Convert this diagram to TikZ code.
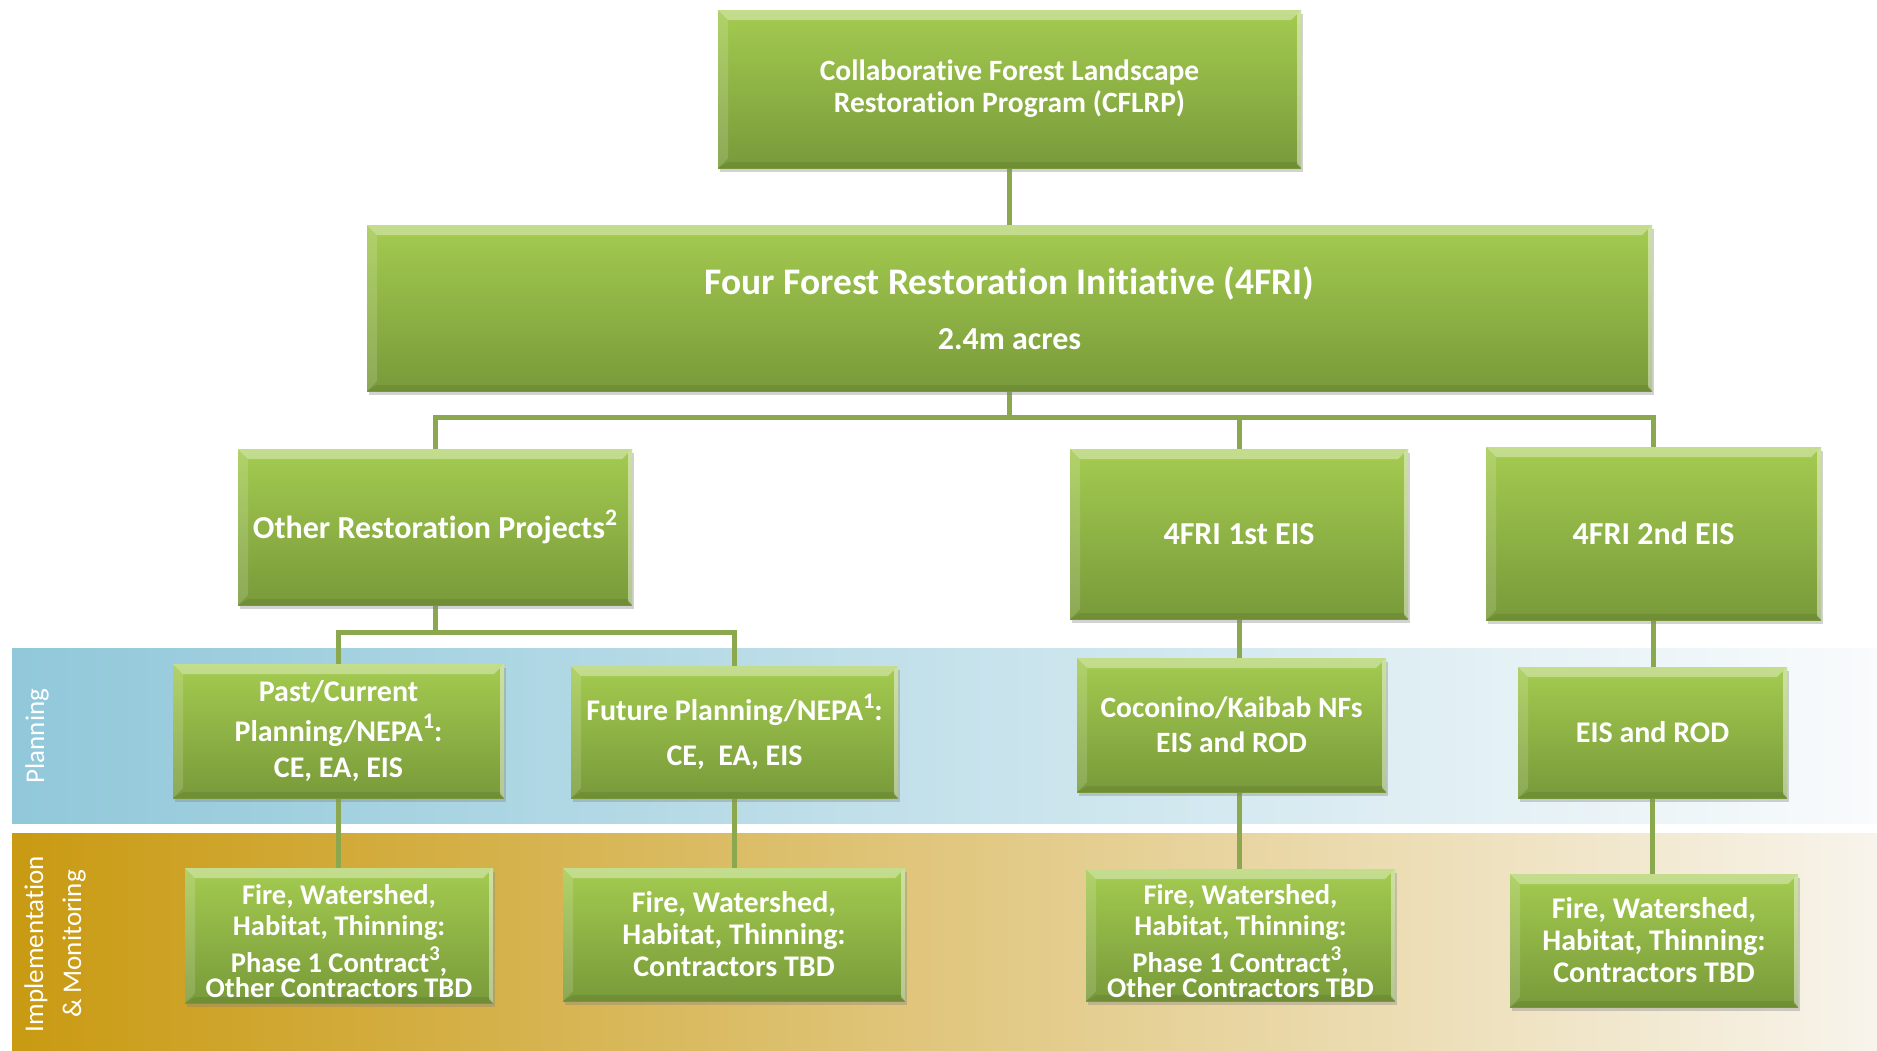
\documentclass[tikz,border=0pt]{standalone}
\usepackage{fontspec}
\setmainfont{Carlito}[Ligatures=NoCommon]
\usetikzlibrary{shadows}
\newcommand\supmark[1]{\raisebox{0.42em}{\scalebox{0.74}{#1}}}
\definecolor{gtop}{HTML}{A4CB50}
\definecolor{gbot}{HTML}{789A3A}
\definecolor{connC}{HTML}{8BA84F}
\definecolor{planL}{HTML}{91C8DA}
\definecolor{planM}{HTML}{C6E1EB}
\definecolor{planR}{HTML}{F9FBFC}
\definecolor{implL}{HTML}{C99A12}
\definecolor{implM}{HTML}{E3C98A}
\definecolor{implR}{HTML}{F8F4EC}
\pgfdeclarelayer{bands}
\pgfdeclarelayer{lines}
\pgfsetlayers{bands,lines,main}
\tikzset{
  gbox/.style={rectangle, inner sep=0pt, top color=gtop, bottom color=gbot,
    text=white, align=center, font=\bfseries\fontsize{29.5}{32}\selectfont,
    drop shadow={shadow xshift=2pt, shadow yshift=-4pt, opacity=0.35},
    path picture={
      \fill[white,opacity=0.35] (path picture bounding box.north west) -- (path picture bounding box.north east)
        -- ([xshift=-10pt,yshift=-10pt]path picture bounding box.north east) -- ([xshift=10pt,yshift=-10pt]path picture bounding box.north west) -- cycle;
      \fill[white,opacity=0.15] (path picture bounding box.north west) -- (path picture bounding box.south west)
        -- ([xshift=10pt,yshift=10pt]path picture bounding box.south west) -- ([xshift=10pt,yshift=-10pt]path picture bounding box.north west) -- cycle;
      \fill[white,opacity=0.45] (path picture bounding box.north east) -- (path picture bounding box.south east)
        -- ([xshift=-4pt,yshift=4pt]path picture bounding box.south east) -- ([xshift=-4pt,yshift=-4pt]path picture bounding box.north east) -- cycle;
      \fill[black,opacity=0.08] (path picture bounding box.south west) -- (path picture bounding box.south east)
        -- ([xshift=-4pt,yshift=6pt]path picture bounding box.south east) -- ([xshift=10pt,yshift=6pt]path picture bounding box.south west) -- cycle;
    }},
  big/.style={font=\bfseries\fontsize{32}{38}\selectfont},
  mid/.style={font=\bfseries\fontsize{30}{34}\selectfont},
  low/.style={font=\bfseries\fontsize{28.5}{31}\selectfont},
  lowb/.style={font=\bfseries\fontsize{30}{32}\selectfont},
  connl/.style={draw=connC, line width=5pt},
  bandlabel/.style={text=white, rotate=90, align=center, font=\fontsize{27}{38}\selectfont},
}
\begin{document}
\begin{tikzpicture}[x=1pt,y=-1pt]
\useasboundingbox (0,0) rectangle (1877,1050);
\begin{pgfonlayer}{bands}
  \fill[white] (0,0) rectangle (1877,1050);
  \fill[left color=planL, middle color=planM, right color=planR] (12,648) rectangle (1877,823);
  \fill[left color=implL, middle color=implM, right color=implR] (12,833) rectangle (1877,1050);
\end{pgfonlayer}
\node[bandlabel] (lplan) at (37,736) {Planning};
\node[bandlabel] (limpl) at (55,944) {Implementation\\\& Monitoring};

\node[gbox, minimum width=583pt, minimum height=158pt] (cflrp) at (1009.5,89) {Collaborative Forest Landscape\\Restoration Program (CFLRP)};
\node[gbox, big, minimum width=1285pt, minimum height=166pt] (fri) at (1009.5,308) {{\fontsize{37.5}{45}\selectfont Four Forest Restoration Initiative (4FRI)}\\[17pt]2.4m acres};
\node[gbox, big, minimum width=394pt, minimum height=156pt] (other) at (435,527) {Other Restoration Projects\supmark{2}};
\node[gbox, big, minimum width=338pt, minimum height=170pt] (eis1) at (1239,534) {4FRI 1st EIS};
\node[gbox, big, minimum width=335pt, minimum height=173pt] (eis2) at (1653.5,533.5) {4FRI 2nd EIS};

\node[gbox, font=\bfseries\fontsize{30}{36}\selectfont, minimum width=331pt, minimum height=134pt] (past) at (338.5,731) {Past/Current\\[4pt]Planning/NEPA\supmark{1}:\\CE, EA, EIS};
\node[gbox, mid, minimum width=327pt, minimum height=132pt] (future) at (734.5,732) {Future Planning/NEPA\supmark{1}:\\[11pt]CE,~ EA, EIS};
\node[gbox, font=\bfseries\fontsize{29.5}{35}\selectfont, minimum width=309pt, minimum height=134pt] (coco) at (1231.5,725) {Coconino/Kaibab NFs\\EIS and ROD};
\node[gbox, mid, minimum width=269pt, minimum height=131pt] (eisrod) at (1652.5,732.5) {EIS and ROD};

\node[gbox, low, minimum width=308pt, minimum height=135pt] (b1) at (339,935.5) {\rule{0pt}{32pt}Fire, Watershed,\\Habitat, Thinning:\\[6pt]Phase 1 Contract\supmark{3},\\[-6pt]Other Contractors TBD};
\node[gbox, lowb, minimum width=342pt, minimum height=133pt] (b2) at (734,934.5) {Fire, Watershed,\\Habitat, Thinning:\\Contractors TBD};
\node[gbox, low, minimum width=309pt, minimum height=132pt] (b3) at (1240.5,935) {\rule{0pt}{32pt}Fire, Watershed,\\Habitat, Thinning:\\[6pt]Phase 1 Contract\supmark{3},\\[-6pt]Other Contractors TBD};
\node[gbox, lowb, minimum width=288pt, minimum height=133pt] (b4) at (1654,940.5) {Fire, Watershed,\\Habitat, Thinning:\\Contractors TBD};

\coordinate (j1) at (1009.5,417);
\coordinate (j2) at (435,632);
\begin{pgfonlayer}{lines}
  \draw[connl] (cflrp.south) -- (fri.north);
  \draw[connl] (fri.south) -- (j1);
  \draw[connl] (other.north) -- (other.north |- j1) -| (eis2.north);
  \draw[connl] (eis1.north) -- (eis1.north |- j1);
  \draw[connl] (other.south) -- (j2);
  \draw[connl] (past.north) -- (past.north |- j2) -| (future.north);
  \draw[connl] (past.south) -- (past.south |- b1.north);
  \draw[connl] (future.south) -- (future.south |- b2.north);
  \draw[connl] (eis1.south) -- (eis1.south |- coco.north);
  \draw[connl] (coco.south -| eis1.south) -- (b3.north -| eis1.south);
  \draw[connl] (eis2.south) -- (eis2.south |- eisrod.north);
  \draw[connl] (eisrod.south) -- (eisrod.south |- b4.north);
\end{pgfonlayer}
\end{tikzpicture}
\end{document}
